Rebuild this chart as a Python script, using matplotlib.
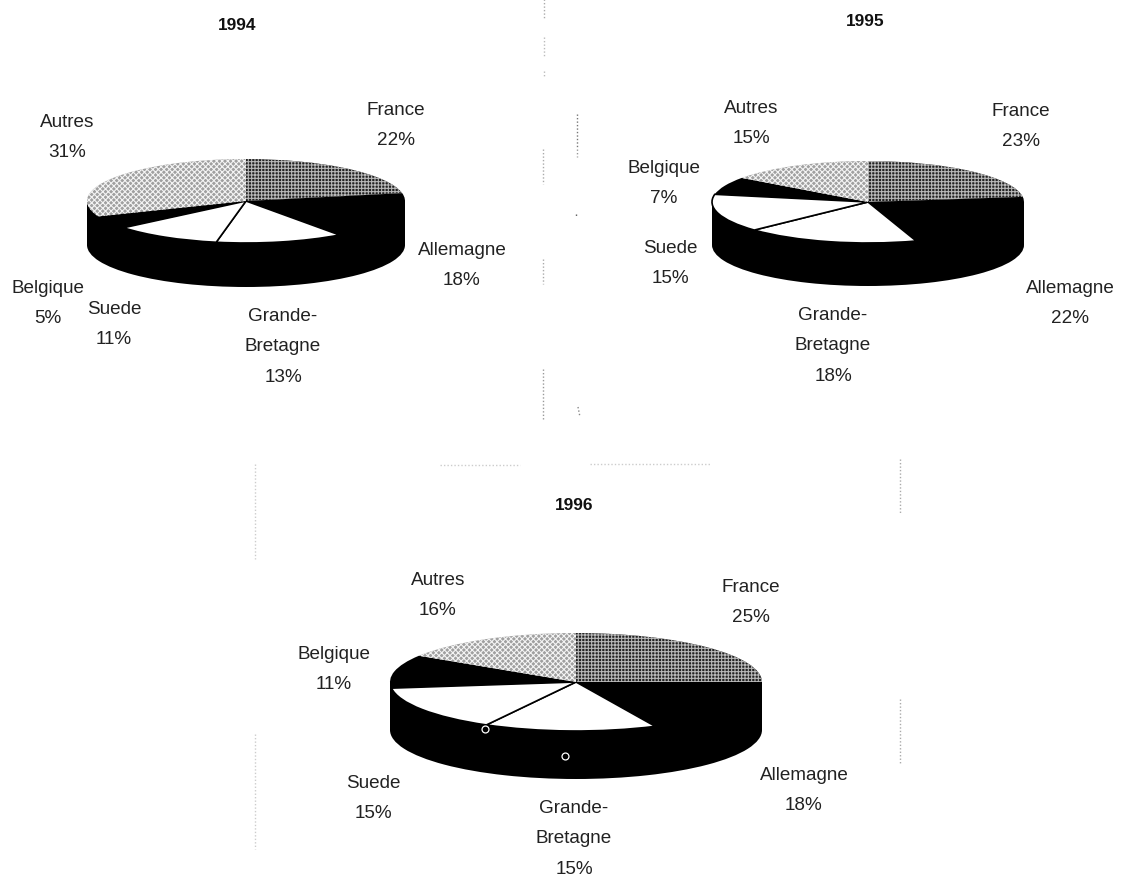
import matplotlib
matplotlib.use("Agg")
import matplotlib.pyplot as plt
from matplotlib.patches import Rectangle

plt.rcParams['font.family'] = ['Liberation Sans', 'DejaVu Sans']
plt.rcParams['hatch.linewidth'] = 0.8

W, H = 1128, 879

# Country order, clockwise from 12 o'clock
countries = ['France', 'Allemagne', 'Grande-\nBretagne', 'Suede', 'Belgique', 'Autres']
shares_1994 = [22, 18, 13, 11, 5, 31]
shares_1995 = [23, 22, 18, 15, 7, 15]
shares_1996 = [25, 18, 15, 15, 11, 16]

slice_colors = ['#222222', 'black', 'white', 'white', 'black', '#a0a0a0']
slice_hatch = ['+++++', None, None, None, None, 'xxxxxx']
hatch_colors = ['#b8b8b8', 'black', 'black', 'black', 'black', '#f4f4f4']
slice_edge = [0, 0, 1.2, 1.2, 0, 0]

# centre x, centre y, radius x, radius y, depth (pixels)
layout_1994 = (246, 202, 159, 42, 44)
layout_1995 = (868, 203, 156, 41, 43)
layout_1996 = (576, 683, 186, 49, 48)

# label centres (x, y of first line)
labels_1994 = [(396, 110), (462, 250), (283, 316), (114, 309), (48, 288), (67, 122)]
labels_1995 = [(1021, 111), (1070, 288), (833, 315), (670, 248), (664, 168), (751, 108)]
labels_1996 = [(751, 587), (804, 775), (574, 808), (373, 783), (334, 654), (438, 580)]

titles = ['1994', '1995', '1996']
title_pos = [(237, 26), (865, 21), (574, 506)]

# faint scan marks: x0, y0, x1, y1, grey
scan_marks = [
    (544, 0, 544, 20, '#aaaaaa'), (544, 38, 544, 58, '#bbbbbb'), (544, 72, 544, 78, '#bbbbbb'),
    (543, 150, 543, 185, '#aaaaaa'), (543, 260, 543, 285, '#aaaaaa'), (543, 370, 543, 422, '#999999'),
    (577, 115, 577, 148, '#777777'), (577, 150, 577, 158, '#999999'), (576, 215, 576, 218, '#555555'),
    (578, 408, 580, 418, '#888888'),
    (255, 465, 255, 560, '#cccccc'), (255, 735, 255, 850, '#cccccc'),
    (900, 460, 900, 515, '#aaaaaa'), (900, 700, 900, 765, '#aaaaaa'),
    (440, 466, 520, 466, '#cccccc'), (590, 465, 710, 465, '#cccccc'),
]


def draw_pie(fig, shares, layout):
    cx, cy, rx, ry, depth = layout
    ax = fig.add_axes([(cx - rx) / W, 1 - (cy + ry) / H, 2 * rx / W, 2 * ry / H])
    d = depth / ry
    # side wall, then the top face over it
    ax.pie([1], colors=['black'], center=(0, -d), radius=1, startangle=90, frame=False)
    ax.add_patch(Rectangle((-1, -d), 2, d, facecolor='black', edgecolor='none', zorder=1))
    wedges, _ = ax.pie(shares, colors=slice_colors, startangle=90, counterclock=False,
                       radius=1, frame=False)
    for i, w in enumerate(wedges):
        w.set_zorder(3)
        w.set_edgecolor(hatch_colors[i])
        w.set_linewidth(slice_edge[i])
        if slice_hatch[i]:
            w.set_hatch(slice_hatch[i])
    ax.set_aspect('auto')
    ax.set_xlim(-1, 1)
    ax.set_ylim(-1, 1)
    ax.axis('off')
    for artist in ax.patches:
        artist.set_clip_on(False)
    return ax


fig = plt.figure(figsize=(W / 100, H / 100), dpi=100, facecolor='white')

draw_pie(fig, shares_1994, layout_1994)
draw_pie(fig, shares_1995, layout_1995)
draw_pie(fig, shares_1996, layout_1996)

# overlay in pixel coordinates for the text and scan marks
over = fig.add_axes([0, 0, 1, 1], facecolor='none')
over.set_xlim(0, W)
over.set_ylim(H, 0)
over.axis('off')

for x0, y0, x1, y1, c in scan_marks:
    over.plot([x0, x1], [y0, y1], color=c, lw=1, ls=(0, (1, 1.5)))

for shares, positions in [(shares_1994, labels_1994), (shares_1995, labels_1995), (shares_1996, labels_1996)]:
    for name, value, (x, y) in zip(countries, shares, positions):
        over.text(x, y - 8, f'{name}\n{value}%', ha='center', va='top', fontsize=13.6,
                  color='#222222', linespacing=2.02)

for t, (x, y) in zip(titles, title_pos):
    over.text(x, y, t, ha='center', va='center', fontsize=12.4, fontweight='bold', color='#111111')

# small rings left on the 1996 pie by the scan
over.plot([485, 565], [730, 757], ls='none', marker='o', ms=5, mfc='black', mec='white', mew=0.9)

fig.savefig('out.png', dpi=100)
